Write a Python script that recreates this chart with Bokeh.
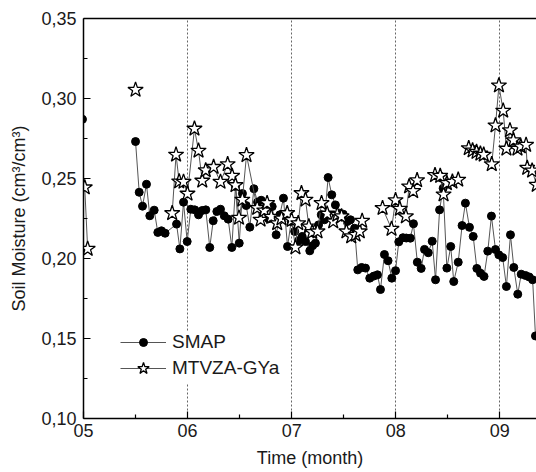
import numpy as np
from bokeh.plotting import figure
from bokeh.models import (Range1d, FixedTicker, CustomJSTickFormatter, LinearAxis,
                          Legend, LegendItem)
from bokeh.embed import file_html
from bokeh.resources import INLINE

nan = float("nan")

month_ticks = [0, 1, 2, 3, 4]
month_minor = [0.5, 1.5, 2.5, 3.5]
month_labels = ["05", "06", "07", "08", "09"]
y_ticks = [0.10, 0.15, 0.20, 0.25, 0.30, 0.35]
y_minor = [0.125, 0.175, 0.225, 0.275, 0.325]

smap_x = [-0.01, nan, 0.500, 0.535, 0.567, 0.605, 0.637, 0.679, 0.714, 0.749, 0.784,
          0.894, 0.926, 0.961, 0.996, 1.031, 1.069, 1.105, 1.140, 1.175, 1.213, 1.246,
          1.281, 1.316, 1.352, 1.390, 1.425, 1.460, 1.496, 1.527, 1.563, 1.598, 1.637,
          1.672, 1.707, 1.739, 1.777, 1.813, 1.851, 1.886, 1.921, 1.960, 1.995, 2.029,
          2.066, 2.101, 2.133, 2.174, 2.201, 2.228, 2.258, 2.284, 2.315, 2.350, 2.385,
          2.420, 2.462, 2.495, 2.534, 2.565, 2.604, 2.635, 2.672, 2.709, 2.750, 2.789,
          2.824, 2.853, 2.891, 2.926, 2.962, 2.998, 3.029, 3.069, 3.101, 3.140, 3.170,
          3.207, 3.244, 3.276, 3.312, 3.350, 3.382, 3.421, 3.455, 3.491, 3.528, 3.557,
          3.600, 3.637, 3.669, 3.708, 3.744, 3.779, 3.814, 3.848, 3.884, 3.919, 3.958,
          3.990, 4.027, 4.063, 4.102, 4.134, 4.172, 4.205, 4.246, 4.281, 4.315, 4.342]
smap_y = [0.287, nan, 0.2731, 0.2414, 0.2327, 0.2464, 0.2267, 0.2302, 0.2163, 0.2173, 0.2158,
          0.2215, 0.2060, 0.2352, 0.2106, 0.2308, 0.2304, 0.2273, 0.2300, 0.2304, 0.2069, 0.2236,
          0.2294, 0.2308, 0.2267, 0.2246, 0.2069, 0.2450, 0.2096, 0.2406, 0.2331, 0.2196, 0.2436,
          0.2352, 0.2364, 0.2304, 0.2248, 0.2325, 0.2148, 0.2273, 0.2377, 0.2075, 0.2231, 0.2169,
          0.2111, 0.2138, 0.2106, 0.2048, 0.2080, 0.2096, 0.2210, 0.2273, 0.2242, 0.2506, 0.2398,
          0.2335, 0.2283, 0.2277, 0.2231, 0.2242, 0.2189, 0.1929, 0.1944, 0.1940, 0.1877, 0.1890,
          0.1898, 0.1806, 0.2025, 0.1986, 0.1877, 0.1924, 0.2104, 0.2130, 0.2128, 0.2127, 0.2217,
          0.1977, 0.1938, 0.2057, 0.2036, 0.2108, 0.1867, 0.2304, 0.2439, 0.1940, 0.2075, 0.1856,
          0.1977, 0.2206, 0.2346, 0.2195, 0.2138, 0.1938, 0.1908, 0.1888, 0.2046, 0.2265, 0.2056,
          0.2023, 0.2006, 0.1825, 0.2148, 0.1944, 0.1777, 0.1902, 0.1894, 0.1885, 0.1867, 0.1516]

mtvza_x = [0.012, 0.040, nan, 0.500, nan,
           0.852, 0.889, 0.919, 0.961, 0.999, 1.066, 1.105, 1.141, 1.174, 1.250, 1.316,
           1.385, 1.428, 1.460, 1.494, 1.526, 1.566,
           1.669, 1.701, 1.736, 1.764, 1.804, 1.861, 1.902, 1.957, 1.999, 2.036, 2.063,
           2.094, 2.133, 2.165, 2.197, 2.248, 2.287, 2.341, 2.399, 2.438, 2.479, 2.526,
           2.572, 2.614, 2.654, 2.677, nan,
           2.873, 2.959, 2.998, 3.039, 3.097, 3.128, 3.167, 3.205, nan,
           3.377, 3.427, 3.459, 3.491, 3.544, 3.600, nan,
           3.701, 3.738, 3.776, 3.813, 3.845, 3.922, 3.958, 3.991, 4.032, 4.063, 4.097,
           4.130, 4.169, 4.201, 4.252, 4.263, 4.310, 4.354]
mtvza_y = [0.2444, 0.2060, nan, 0.3054, nan,
           0.2283, 0.2648, 0.2481, 0.2479, 0.2405, 0.2811, 0.2673, 0.2486, 0.2551, 0.2572, 0.2479,
           0.2589, 0.2516, 0.2458, 0.2254, 0.2367, 0.2646,
           0.2315, 0.2242, 0.2300, 0.2346, 0.2260, 0.2220, 0.2250, 0.2283, 0.2240, 0.2069, 0.2220,
           0.2408, 0.2367, 0.2200, 0.2165, 0.2169, 0.2346, 0.2280, 0.2231, 0.2273, 0.2263, 0.2169,
           0.2138, 0.2148, 0.2169, 0.2235, nan,
           0.2315, 0.2185, 0.2364, 0.2310, 0.2263, 0.2450, 0.2421, 0.2489, nan,
           0.2521, 0.2516, 0.2400, 0.2471, 0.2480, 0.2492, nan,
           0.2689, 0.2675, 0.2666, 0.2655, 0.2648, 0.2589, 0.2831, 0.3081, 0.2923, 0.2686, 0.2801,
           0.2739, 0.2686, 0.2700, 0.2710, 0.2566, 0.2549, 0.2460]

FONT = "Liberation Sans"
TXT = "#1a1a1a"

p = figure(width=536, height=472, output_backend="svg", toolbar_location=None,
           x_range=Range1d(0, 4.352), y_range=Range1d(0.10, 0.35),
           min_border_left=83, min_border_right=0, min_border_top=18, min_border_bottom=54,
           background_fill_color="white", border_fill_color="white")
p.outline_line_color = None

for ax in (p.xaxis[0], p.yaxis[0]):
    ax.axis_line_color = "black"
    ax.axis_line_width = 1.5
    ax.major_tick_in = 7
    ax.major_tick_out = 0
    ax.minor_tick_in = 4
    ax.minor_tick_out = 0
    ax.major_tick_line_color = "black"
    ax.minor_tick_line_color = "black"
    ax.major_tick_line_width = 1.2
    ax.minor_tick_line_width = 1.2
    ax.major_label_text_font = FONT
    ax.major_label_text_font_size = "18px"
    ax.major_label_text_color = TXT
    ax.axis_label_text_font = FONT
    ax.axis_label_text_font_size = "18px"
    ax.axis_label_text_font_style = "normal"
    ax.axis_label_text_color = TXT

p.xaxis.ticker = FixedTicker(ticks=month_ticks, minor_ticks=month_minor)
p.xaxis.formatter = CustomJSTickFormatter(args=dict(labels=month_labels),
                                          code="return labels[Math.round(tick)];")
p.xaxis.axis_label = "Time (month)"
p.xaxis.major_label_standoff = 5
p.xaxis.axis_label_standoff = 8

p.yaxis.ticker = FixedTicker(ticks=y_ticks, minor_ticks=y_minor)
p.yaxis.formatter = CustomJSTickFormatter(code="return tick.toFixed(2).replace('.', ',');")
p.yaxis.axis_label = "Soil Moisture (cm³/cm³)"
p.yaxis.major_label_standoff = 7
p.yaxis.axis_label_standoff = 9

top = LinearAxis(ticker=FixedTicker(ticks=[]), axis_line_color="black", axis_line_width=1.5,
                 major_tick_line_color=None, minor_tick_line_color=None)
p.add_layout(top, "above")

p.ygrid.grid_line_color = None
p.xgrid.ticker = FixedTicker(ticks=month_ticks[1:])
p.xgrid.grid_line_color = "#666666"
p.xgrid.grid_line_dash = "2 2"
p.xgrid.grid_line_width = 1

l1 = p.line(smap_x, smap_y, line_color="#555555", line_width=1)
s1 = p.scatter(smap_x, smap_y, marker="circle", size=8, fill_color="black", line_color="black")
l2 = p.line(mtvza_x, mtvza_y, line_color="#555555", line_width=1)
s2 = p.scatter(mtvza_x, mtvza_y, marker="star", size=16, fill_color="white",
               line_color="black", line_width=1.3)

common = dict(glyph_width=46, label_height=20, label_standoff=6, spacing=0, padding=0,
              margin=0, border_line_color=None, background_fill_color="white",
              background_fill_alpha=1, label_text_font=FONT, label_text_font_size="19px",
              label_text_color=TXT)
legend1 = Legend(items=[LegendItem(label="SMAP", renderers=[l1, s1])],
                 location=(37, 65), glyph_height=20, **common)
legend2 = Legend(items=[LegendItem(label="MTVZA-GYa", renderers=[l2, s2])],
                 location=(37, 35), glyph_height=30, **common)
p.add_layout(legend1)
p.add_layout(legend2)

open("out.html", "w").write(file_html(p, INLINE))
